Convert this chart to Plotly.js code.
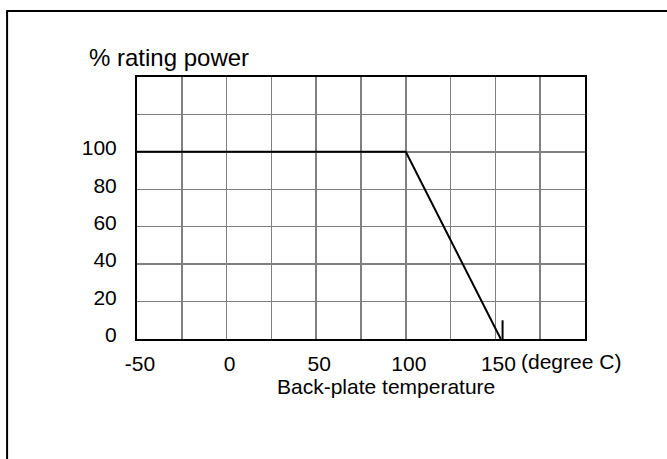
<!DOCTYPE html>
<html>
<head>
<meta charset="utf-8">
<script src="https://cdn.plot.ly/plotly-3.0.1.min.js"></script>
<style>
html, body { margin: 0; padding: 0; background: #fff; }
#chart { width: 667px; height: 459px; }
</style>
</head>
<body>
<div id="chart"></div>
<script>
// Derating curve: % rating power vs back-plate temperature
const tempC = [-50, 100, 153];
const ratingPct = [100, 100, 0];

// small vertical mark at the end of the curve
const markTemp = [154, 154];
const markPct = [0, 10];

// axis ticks
const xTickVals = [-50, -25, 0, 25, 50, 75, 100, 125, 150, 175, 200];
const xTickText = ['-50', '', '0', '', '50', '', '100', '', '150', '', ''];
const yTickVals = [0, 20, 40, 60, 80, 100, 120, 140];
const yTickText = ['0', '20', '40', '60', '80', '100', '', ''];

const titleText = '% rating power';
const xTitleText = 'Back-plate temperature';
const unitText = '(degree C)';

const FONT = 'Arial, "Liberation Sans", sans-serif';

const traces = [
  {
    x: tempC, y: ratingPct, type: 'scatter', mode: 'lines',
    line: { color: '#000', width: 2 }, hoverinfo: 'skip', showlegend: false
  },
  {
    x: markTemp, y: markPct, type: 'scatter', mode: 'lines',
    line: { color: '#000', width: 2 }, hoverinfo: 'skip', showlegend: false
  }
];

const layout = {
  width: 667, height: 459,
  margin: { l: 137, r: 82, t: 77, b: 120, pad: 0 },
  paper_bgcolor: '#fff', plot_bgcolor: '#fff',
  font: { family: FONT, size: 21, color: '#000' },
  showlegend: false,
  xaxis: {
    range: [-50, 200], tickmode: 'array', tickvals: xTickVals, ticktext: xTickText,
    showgrid: true, gridcolor: '#808080', gridwidth: 1.5, zeroline: false,
    showline: true, mirror: true, linecolor: '#000', linewidth: 2,
    ticks: '', ticklabelshift: 3, ticklabelstandoff: 5,
    tickfont: { family: FONT, size: 21, color: '#000' }, fixedrange: true
  },
  yaxis: {
    range: [0, 140], tickmode: 'array', tickvals: yTickVals, ticktext: yTickText,
    showgrid: true, gridcolor: '#808080', gridwidth: 1.5, zeroline: false,
    showline: true, mirror: true, linecolor: '#000', linewidth: 2,
    ticks: '', ticklabelshift: -4, ticklabelstandoff: 14,
    tickfont: { family: FONT, size: 21, color: '#000' }, fixedrange: true
  },
  annotations: [
    { text: titleText, xref: 'paper', yref: 'paper', x: 0.0714, y: 1.076,
      xanchor: 'center', yanchor: 'middle', showarrow: false,
      font: { family: FONT, size: 24, color: '#000' } },
    { text: xTitleText, xref: 'paper', yref: 'paper', x: 0.555, y: -0.18,
      xanchor: 'center', yanchor: 'middle', showarrow: false,
      font: { family: FONT, size: 21, color: '#000' } },
    { text: unitText, xref: 'paper', yref: 'paper', x: 0.853, y: -0.087,
      xanchor: 'left', yanchor: 'middle', showarrow: false,
      font: { family: FONT, size: 21, color: '#000' } }
  ],
  shapes: [
    { type: 'line', xref: 'paper', yref: 'paper', x0: -0.290, x1: -0.290, y0: 1.252, y1: -0.46,
      line: { color: '#000', width: 2 } },
    { type: 'line', xref: 'paper', yref: 'paper', x0: -0.292, x1: 1.19, y0: 1.252, y1: 1.252,
      line: { color: '#000', width: 2 } }
  ]
};

Plotly.newPlot('chart', traces, layout, { displayModeBar: false, staticPlot: true });
</script>
</body>
</html>
